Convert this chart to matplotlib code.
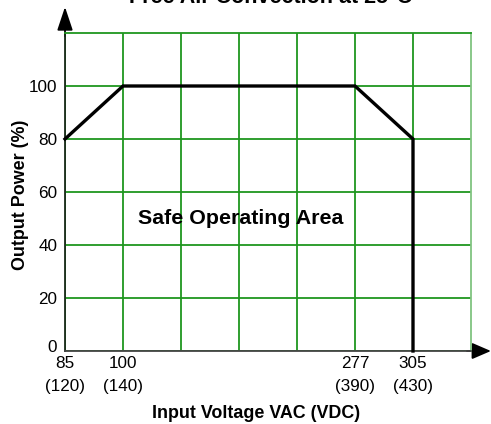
import numpy as np
import matplotlib
matplotlib.use("Agg")
import matplotlib.pyplot as plt
from matplotlib.transforms import ScaledTranslation

plt.rcParams['font.family'] = ['Liberation Sans', 'DejaVu Sans']

# derating curve
volts = [85, 100, 277, 305, 305]
power = [80, 100, 100, 80, 0]

# x ticks (VAC with VDC in brackets)
tick_vac = [85, 100, 277, 305]
tick_labels = ['85\n(120)', '100\n(140)', '277\n(390)', '305\n(430)']
y_ticks = [0, 20, 40, 60, 80, 100]

# the x axis is not linear: grid cells of the drawing
anchor_v = [85, 100, 277, 305, 333]
anchor_p = [0, 1, 5, 6, 7]


def fwd(v):
    return np.interp(v, anchor_v, anchor_p)


def inv(p):
    return np.interp(p, anchor_p, anchor_v)


green = '#1f961f'

fig = plt.figure(figsize=(4.91, 4.24), dpi=100)
ax = fig.add_axes([65 / 491, 73 / 424, 406 / 491, 318 / 424])
ax.set_xscale('function', functions=(fwd, inv))
ax.set_xlim(85, 333)
ax.set_ylim(0, 120)

ax.set_xticks(tick_vac)
ax.set_xticklabels(tick_labels)
ax.set_xticks(inv(np.arange(1, 7)), minor=True)
ax.set_yticks(y_ticks)
ax.tick_params(which='both', length=0, labelsize=12.3)
ax.tick_params(axis='y', pad=5.5)
ax.tick_params(axis='x', pad=3.5)
ax.grid(which='both', color=green, linewidth=1.3)
ax.set_axisbelow(True)

for lab in ax.get_xticklabels():
    lab.set_linespacing(1.7)
# the low y labels sit a little above their lines
ylabs = ax.get_yticklabels()
ylabs[0].set_transform(ylabs[0].get_transform() + ScaledTranslation(0, 5 / 100, fig.dpi_scale_trans))

ax.spines['left'].set_color('#1a2a1a')
ax.spines['bottom'].set_color('#444444')
ax.spines['top'].set_color(green)
ax.spines['right'].set_color('#80c480')
for s in ax.spines.values():
    s.set_linewidth(1.3)
    s.set_zorder(3)

ax.plot(volts, power, color='black', linewidth=2.4, solid_joinstyle='miter', clip_on=False, zorder=5)

ax.text(190, 50, 'Safe Operating Area', fontsize=15.4, fontweight='bold', ha='center', va='center', zorder=6)

ax.set_xlabel('Input Voltage VAC (VDC)', fontsize=12.9, fontweight='bold', va='center')
ax.xaxis.set_label_coords(0.47, -0.195)
ax.set_ylabel('Output Power (%)', fontsize=12.9, fontweight='bold', va='center')
ax.yaxis.set_label_coords(-0.11, 0.49)

# axis arrows
ax.annotate('', xy=(0, 1.082), xytext=(0, 0.99), xycoords='axes fraction',
            arrowprops=dict(arrowstyle='-|>,head_length=0.72,head_width=0.24', mutation_scale=20,
                            color='black', linewidth=1.3, shrinkA=0, shrinkB=0))
ax.annotate('', xy=(1.049, 0), xytext=(0.99, 0), xycoords='axes fraction',
            arrowprops=dict(arrowstyle='-|>,head_length=0.58,head_width=0.25', mutation_scale=20,
                            color='black', linewidth=1.3, shrinkA=0, shrinkB=0))

fig.text(271 / 491, 1 - 3 / 424, 'Free Air Convection at 25\u00b0C', fontsize=15.5,
         fontweight='bold', ha='center', va='baseline')

fig.savefig('out.png', dpi=100)
plt.close()
